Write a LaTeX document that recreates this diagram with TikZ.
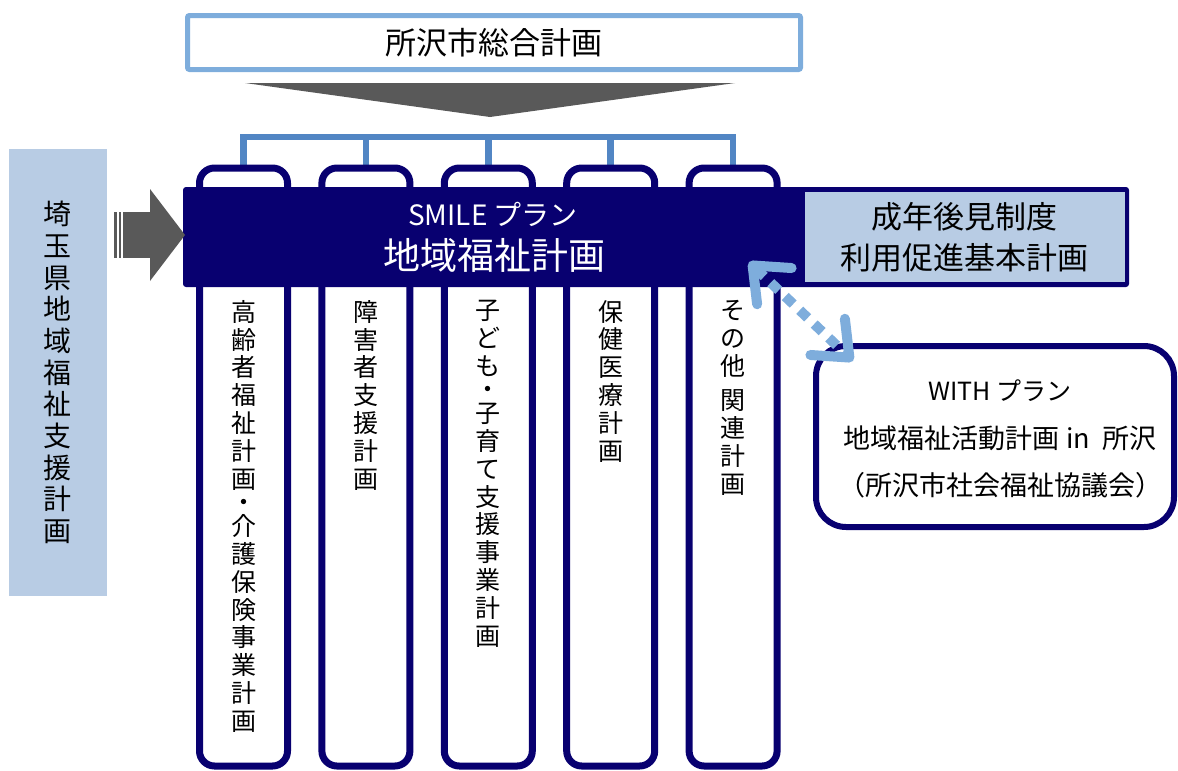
\documentclass[tikz,border=0pt]{standalone}
\usepackage{fontspec}
\setmainfont{Noto Sans CJK JP}
\usetikzlibrary{arrows.meta}
\definecolor{navy}{RGB}{8,0,112}
\definecolor{lineblue}{RGB}{126,173,220}
\definecolor{brblue}{RGB}{82,134,196}
\definecolor{paleblue}{RGB}{184,204,228}
\definecolor{arrowgray}{RGB}{89,89,89}
\begin{document}
\begin{tikzpicture}[x=1pt,y=-1pt,
  pillar/.style={draw=navy, line width=7pt, fill=white, rounded corners=15pt,
    minimum width=88pt, minimum height=598pt, inner sep=0pt},
  vtxt/.style={font=\fontsize{25}{27.8}\selectfont, align=center, anchor=north, inner sep=0pt},
  bracketline/.style={draw=brblue, line width=6.5pt, line join=miter},
  dotarrow/.style={draw=lineblue, line width=10pt, dash pattern=on 11pt off 9pt,
    arrows={Straight Barb[length=30pt,width=50pt,round]-Straight Barb[length=30pt,width=50pt,round]}}
]
\useasboundingbox (0,0) rectangle (1178,771);

% positions of the pillars
\coordinate (bar) at (0,137);
\foreach \i/\x in {1/243.5,2/365.9,3/488.3,4/610.7,5/733.1}{
  \coordinate (c\i) at (\x,467);
}
% bracket from the general plan (drawn first, pillars cover its ends)
\draw[bracketline] (c1 |- 0,168) -- (c1 |- bar) -- (c5 |- bar) -- (c5 |- 0,168);
\foreach \i in {2,3,4}{ \draw[bracketline] (c\i |- bar) -- (c\i |- 0,168); }
% pillars
\foreach \i in {1,...,5}{
  \node[pillar] (p\i) at (c\i) {};
}

% main band
\node[fill=navy, rounded corners=3pt, minimum width=946pt, minimum height=100pt, inner sep=0pt] (band) at (656,237) {};
\node[fill=paleblue, minimum width=320pt, minimum height=90pt, inner sep=0pt] (kouken) at (965,237) {};
\node[align=center, font=\fontsize{31}{41}\selectfont, inner sep=0pt] (koukentxt) at (964,237.5) {成年後見制度\\利用促進基本計画};
\node[text=white, font=\fontsize{28}{30}\selectfont, inner sep=0pt] (smile) at (493,214) {SMILE プラン};
\node[text=white, font=\fontsize{37}{40}\selectfont, inner sep=0pt] (chiiki) at (494,255) {地域福祉計画};

% pillar texts
\node[vtxt] (t1) at (p1.north |- 0,300) {高\\齢\\者\\福\\祉\\計\\画\\[-4pt]・\\[-4pt]介\\護\\保\\険\\事\\業\\計\\画};
\node[vtxt] (t2) at (p2.north |- 0,300) {障\\害\\者\\支\\援\\計\\画};
\node[vtxt] (t3) at (p3.north |- 0,300) {子\\ど\\も\\[-4pt]・\\[-4pt]子\\育\\て\\支\\援\\事\\業\\計\\画};
\node[vtxt] (t4) at (p4.north |- 0,300) {保\\健\\医\\療\\計\\画};
\node[vtxt] (t5) at (p5.north |- 0,300) {そ\\の\\他\\[7pt]関\\連\\計\\画};

% top box and funnel
\node[draw=lineblue, line width=5pt, fill=white, rounded corners=2pt, minimum width=613pt, minimum height=54pt,
  font=\fontsize{31}{34}\selectfont, inner sep=0pt] (sogo) at (494,42.5) {所沢市総合計画};
\fill[arrowgray] (245,83) -- (735,83) -- (490,117) -- cycle;

% prefecture plan
\node[fill=paleblue, minimum width=98pt, minimum height=447pt, inner sep=0pt] (ken) at (57.5,372.5) {};
\node[align=center, font=\fontsize{28}{31.7}\selectfont, inner sep=0pt] (kentxt) at (57.5,372.5)
  {埼\\玉\\県\\地\\域\\福\\祉\\支\\援\\計\\画};

% block arrow from prefecture plan into main band
\fill[arrowgray] (114,212) rectangle (116.5,258);
\fill[arrowgray] (118.5,212) rectangle (121,258);
\fill[arrowgray] (123,212) rectangle (150.5,258);
\fill[arrowgray] (150,189) -- (185,235) -- (150,281) -- cycle;

% WITH plan
\node[draw=navy, line width=6pt, fill=white, rounded corners=30pt, minimum width=358pt, minimum height=181pt, inner sep=0pt] (with) at (995,436.5) {};
\node[font=\fontsize{25}{28}\selectfont, inner sep=0pt] (withA) at (1000,391) {WITH プラン};
\node[font=\fontsize{27}{30}\selectfont, inner sep=0pt] (withB) at (1000,438) {地域福祉活動計画 in \ 所沢};
\node[font=\fontsize{27}{30}\selectfont, inner sep=0pt] (withC) at (1000,485) {（所沢市社会福祉協議会）};

% dotted double arrow
\coordinate (da1) at (749,262);
\coordinate (da2) at (853,361);
\draw[dotarrow] (da1) -- (da2);
\end{tikzpicture}
\end{document}
